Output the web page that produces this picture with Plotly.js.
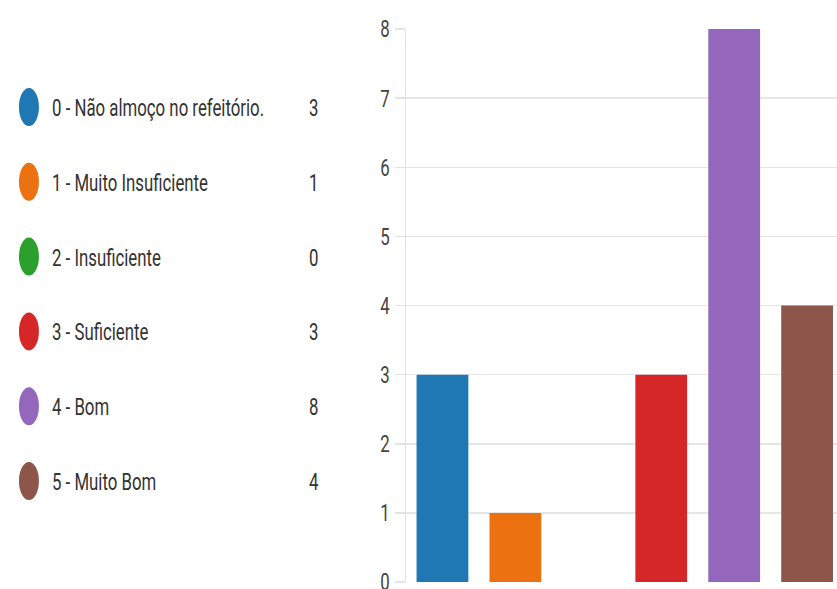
<!DOCTYPE html>
<html>
<head>
<meta charset="utf-8">
<script src="https://cdn.plot.ly/plotly-3.0.1.min.js"></script>
<style>
html,body{margin:0;padding:0;background:#fff;overflow:hidden;}
#chart{width:837px;height:589px;}
</style>
</head>
<body>
<div id="chart"></div>
<script>
const categories = ["0 - Não almoço no refeitório.", "1 - Muito Insuficiente", "2 - Insuficiente", "3 - Suficiente", "4 - Bom", "5 - Muito Bom"];
const counts = [3, 1, 0, 3, 8, 4];
const colors = ["#1f77b4", "#ec7211", "#2ca02c", "#d62728", "#9467bd", "#8c564b"];
const yTicks = [0, 1, 2, 3, 4, 5, 6, 7, 8];

const W = 837, H = 589;
const L = 405.5, T = 29, B = 7;
const plotW = W - L, plotH = H - T - B;
const px2x = p => (p - L) / plotW;
const py2y = p => (H - B - p) / plotH;

const FONT = "Roboto, 'Noto Sans', sans-serif";
const SX = 0.70; // horizontal condensing of texts

const trace = {
  type: "bar",
  x: categories.map((c, i) => i),
  y: counts,
  marker: {color: colors},
  width: 0.71,
  hoverinfo: "skip"
};

const shapes = [];
const annotations = [];
categories.forEach((c, i) => {
  const cy = 107 + i * 74.8;
  shapes.push({
    type: "circle", xref: "paper", yref: "paper",
    x0: px2x(18), x1: px2x(38), y0: py2y(cy + 19), y1: py2y(cy - 19),
    fillcolor: colors[i], line: {width: 0}
  });
  annotations.push({
    xref: "paper", yref: "paper", x: px2x(49), y: py2y(cy + 1),
    xanchor: "left", yanchor: "middle", showarrow: false,
    text: c, font: {family: FONT, size: 24, color: "#333"}
  });
  annotations.push({
    xref: "paper", yref: "paper", x: px2x(320), y: py2y(cy + 1),
    xanchor: "right", yanchor: "middle", showarrow: false,
    text: String(counts[i]), font: {family: FONT, size: 24, color: "#333"}
  });
});

const layout = {
  width: W, height: H,
  margin: {l: L, r: 0, t: T, b: B, pad: 0},
  paper_bgcolor: "#fff", plot_bgcolor: "#fff",
  showlegend: false,
  xaxis: {
    range: [-0.5, 5.41], showticklabels: false, showgrid: false,
    zeroline: false, showline: false, ticks: "", fixedrange: true
  },
  yaxis: {
    range: [0, 8], tickvals: yTicks, ticktext: yTicks.map(String),
    showgrid: true, gridcolor: "#e6e6e6", gridwidth: 1.5,
    zeroline: false, showline: true, linecolor: "#e3e3e3", linewidth: 1.5,
    ticks: "outside", ticklen: 10, tickcolor: "#e3e3e3", tickwidth: 1.5,
    ticklabeloverflow: "allow",
    tickfont: {family: FONT, size: 24, color: "#444"}, fixedrange: true
  },
  shapes: shapes,
  annotations: annotations
};

Plotly.newPlot("chart", [trace], layout, {displayModeBar: false, staticPlot: true}).then(gd => {
  // condense texts horizontally to mimic the narrow look;
  // legend labels keep their left edge, all other texts keep their right edge
  gd.querySelectorAll("text").forEach(t => {
    const bb = t.getBBox();
    const isLabel = categories.includes(t.textContent);
    const ax = isLabel ? bb.x : bb.x + bb.width;
    const prev = t.getAttribute("transform") || "";
    t.setAttribute("transform", prev + ` translate(${ax},0) scale(${SX},1) translate(${-ax},0)`);
  });
});
</script>
</body>
</html>
